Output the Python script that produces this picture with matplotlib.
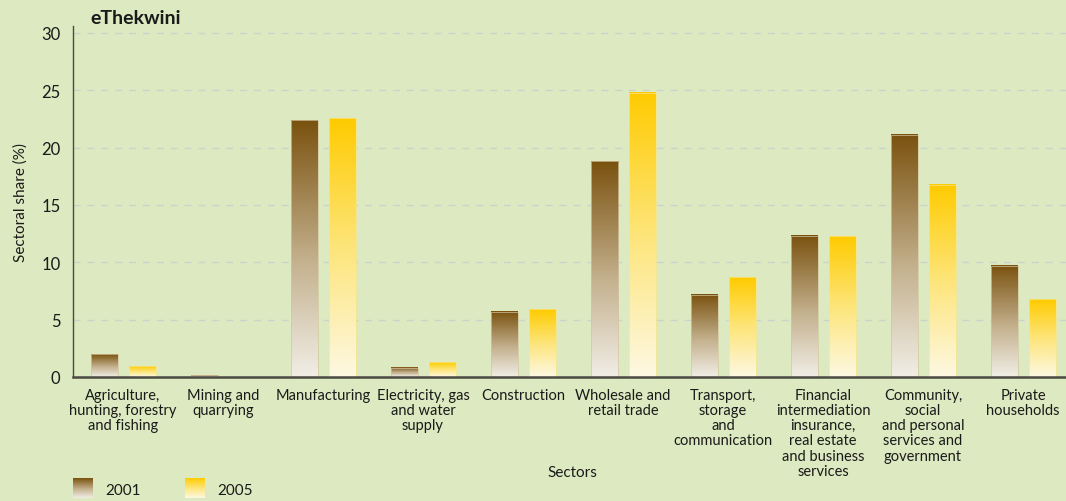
import matplotlib
matplotlib.use("Agg")
import matplotlib.pyplot as plt
import numpy as np
from matplotlib.colors import LinearSegmentedColormap

categories = [
    "Agriculture,\nhunting, forestry\nand fishing",
    "Mining and\nquarrying",
    "Manufacturing",
    "Electricity, gas\nand water\nsupply",
    "Construction",
    "Wholesale and\nretail trade",
    "Transport,\nstorage\nand\ncommunication",
    "Financial\nintermediation\ninsurance,\nreal estate\nand business\nservices",
    "Community,\nsocial\nand personal\nservices and\ngovernment",
    "Private\nhouseholds",
]
values_2001 = [2.0, 0.15, 22.4, 0.8, 5.7, 18.8, 7.15, 12.3, 21.1, 9.7]
values_2005 = [0.95, 0.0, 22.55, 1.3, 5.9, 24.8, 8.7, 12.25, 16.75, 6.8]
series_names = ["2001", "2005"]
yticks = [0, 5, 10, 15, 20, 25, 30]

plt.rcParams["font.family"] = ["Lato", "DejaVu Sans"]
BG = "#dde9c0"
W, H = 1066, 502
fig = plt.figure(figsize=(W / 100, H / 100), dpi=100, facecolor=BG)

ax_left = 73 / W
ax_bottom = (H - 378) / H
ax_top = (H - 27) / H
ax = fig.add_axes([ax_left, ax_bottom, 1 - ax_left, ax_top - ax_bottom])
ax.set_facecolor(BG)

cmap01 = LinearSegmentedColormap.from_list(
    "c01", [(0, "#f1eee6"), (0.45, "#c4b18e"), (1.0, "#7a520f")])
cmap05 = LinearSegmentedColormap.from_list(
    "c05", [(0, "#fdf8e2"), (0.5, "#fde57a"), (1.0, "#ffcb00")])

grad = np.linspace(0, 1, 256).reshape(-1, 1)

x = np.arange(len(categories))
width = 0.27
offsets = [-0.185, 0.195]
edge = ["#d3c6a0", "#f8e68a"]

ax.set_xlim(-0.5, 9.43)
ax.set_ylim(0, 30.6)

for s, (vals, cmap) in enumerate([(values_2001, cmap01), (values_2005, cmap05)]):
    bars = ax.bar(x + offsets[s], vals, width, color="none", edgecolor="none", zorder=3)
    for b, v in zip(bars, vals):
        if v <= 0:
            continue
        x0 = b.get_x()
        ax.imshow(grad, cmap=cmap, origin="lower", aspect="auto",
                  extent=(x0, x0 + width, 0, v), zorder=3, interpolation="bilinear")
        ax.add_patch(plt.Rectangle((x0, 0), width, v, fill=False,
                                   edgecolor=edge[s], lw=0.5, zorder=4))

ax.set_xlim(-0.5, 9.43)
ax.set_ylim(0, 30.6)

for yv in yticks[1:]:
    ax.axhline(yv, color="#cad4cb", lw=1.0, ls=(0, (5, 5)), zorder=1)

for sp in ["top", "right"]:
    ax.spines[sp].set_visible(False)
ax.spines["left"].set_color("#4a4a42")
ax.spines["left"].set_linewidth(1.0)
ax.spines["bottom"].set_color("#4a4a42")
ax.spines["bottom"].set_linewidth(1.8)
ax.spines["bottom"].set_zorder(5)

ax.set_yticks(yticks)
ax.set_yticklabels([str(t) for t in yticks], fontsize=12, color="#1a1a1a")
ax.tick_params(axis="y", length=0, pad=9)
ax.set_xticks(x)
ax.set_xticklabels(categories, fontsize=10.5, color="#1a1a1a", linespacing=1.1)
ax.tick_params(axis="x", length=0, pad=8)

ax.set_ylabel("Sectoral share (%)", fontsize=11, color="#1a1a1a", labelpad=10)
fig.text(572 / W, 1 - 473 / H, "Sectors", fontsize=11, ha="center", va="center", color="#1a1a1a")
fig.text(90 / W, 1 - 18 / H, "eThekwini", fontsize=14, fontweight="bold",
         ha="left", va="center", color="#1a1a1a")

# legend
for (lx, cmap, name, tx) in [(73, cmap01, series_names[0], 105), (185, cmap05, series_names[1], 217)]:
    lax = fig.add_axes([lx / W, (H - 499) / H, 20 / W, 20 / H])
    lax.imshow(grad, cmap=cmap, origin="lower", aspect="auto", extent=(0, 1, 0, 1))
    lax.axis("off")
    fig.text(tx / W, 1 - 491 / H, name, fontsize=11, ha="left", va="center", color="#1a1a1a")

fig.savefig("out.png", dpi=100, facecolor=BG)
